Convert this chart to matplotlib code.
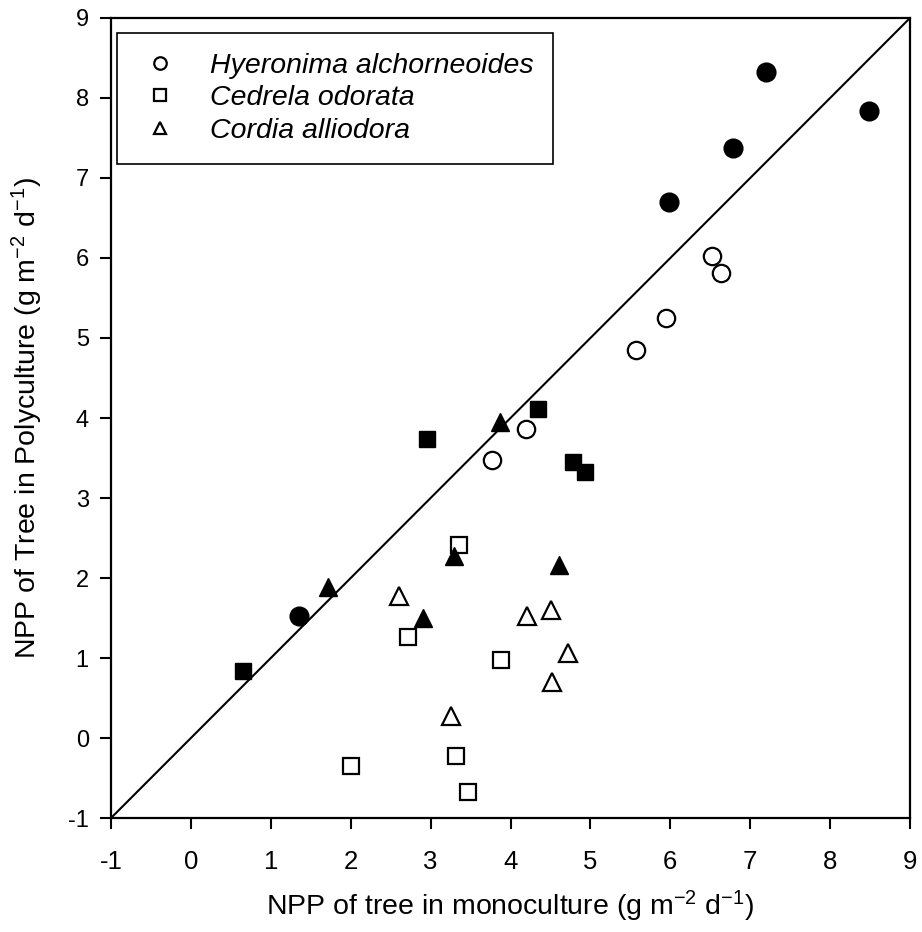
import numpy as np
import matplotlib.pyplot as plt
from matplotlib.lines import Line2D

plt.rcParams['font.family'] = ['Liberation Sans', 'DejaVu Sans']
plt.rcParams['mathtext.fontset'] = 'custom'
plt.rcParams['mathtext.rm'] = 'Liberation Sans'
plt.rcParams['mathtext.it'] = 'Liberation Sans:italic'

# Hyeronima alchorneoides
hy_open_x = [3.77, 4.20, 5.57, 5.95, 6.52, 6.64]
hy_open_y = [3.48, 3.86, 4.85, 5.25, 6.02, 5.81]
hy_fill_x = [1.35, 5.98, 6.79, 7.20, 8.49]
hy_fill_y = [1.53, 6.70, 7.38, 8.33, 7.84]

# Cedrela odorata
ce_open_x = [2.00, 2.72, 3.32, 3.35, 3.47, 3.88]
ce_open_y = [-0.35, 1.26, -0.23, 2.41, -0.67, 0.975]
ce_fill_x = [0.65, 2.95, 4.34, 4.78, 4.93]
ce_fill_y = [0.84, 3.74, 4.11, 3.45, 3.32]

# Cordia alliodora
co_open_x = [2.60, 3.26, 4.21, 4.51, 4.52, 4.72]
co_open_y = [1.77, 0.27, 1.52, 1.60, 0.70, 1.06]
co_fill_x = [1.71, 2.90, 3.29, 3.87, 4.61]
co_fill_y = [1.89, 1.50, 2.27, 3.95, 2.16]

species = ['Hyeronima alchorneoides', 'Cedrela odorata', 'Cordia alliodora']
ticks = np.arange(-1, 10, 1)

fig = plt.figure(figsize=(9.22, 9.32), dpi=100)
ax = fig.add_axes([0.1204, 0.1223, 0.8666, 0.8584])

ax.plot([-1, 9], [-1, 9], color='black', lw=1.5, zorder=1)

ax.plot(hy_open_x, hy_open_y, 'o', ms=12.5, mfc='white', mec='black', mew=1.6, ls='none')
ax.plot(hy_fill_x, hy_fill_y, 'o', ms=13.5, mfc='black', mec='black', ls='none')
ax.plot(ce_open_x, ce_open_y, 's', ms=11.5, mfc='white', mec='black', mew=1.6, ls='none')
ax.plot(ce_fill_x, ce_fill_y, 's', ms=12, mfc='black', mec='black', ls='none')
ax.plot(co_open_x, co_open_y, '^', ms=12.5, mfc='white', mec='black', mew=1.6, ls='none')
ax.plot(co_fill_x, co_fill_y, '^', ms=13, mfc='black', mec='black', ls='none')

ax.set_xlim(-1, 9)
ax.set_ylim(-1, 9)
ax.set_xticks(ticks)
ax.set_yticks(ticks)
ax.set_xticklabels([str(t) for t in ticks], fontsize=18.5)
ax.set_yticklabels([str(t) for t in ticks], fontsize=17)
ax.tick_params(direction='out', length=8, width=1.5, top=False, right=False)
ax.tick_params(axis='x', pad=15)
ax.tick_params(axis='y', pad=8)
for s in ax.spines.values():
    s.set_linewidth(1.6)

ax.set_xlabel('NPP of tree in monoculture (g m$^{-2}$ d$^{-1}$)', fontsize=20.5)
ax.set_ylabel('NPP of Tree in Polyculture (g m$^{-2}$ d$^{-1}$)', fontsize=20.5)
ax.xaxis.set_label_coords(0.5, -0.088)
ax.yaxis.set_label_coords(-0.083, 0.5)

handles = [Line2D([], [], marker=m, ls='none', ms=9, mfc='white', mec='black', mew=1.6)
           for m in ['o', 's', '^']]
leg = ax.legend(handles, species, loc='upper left', bbox_to_anchor=(0.0075, 0.981),
                borderaxespad=0, fancybox=False, framealpha=1, edgecolor='black',
                prop={'style': 'italic', 'size': 20.5}, handletextpad=0.9,
                borderpad=0.7, labelspacing=0.22, handlelength=1.65)
leg.get_frame().set_linewidth(1.2)

fig.savefig('out.png', dpi=100)
